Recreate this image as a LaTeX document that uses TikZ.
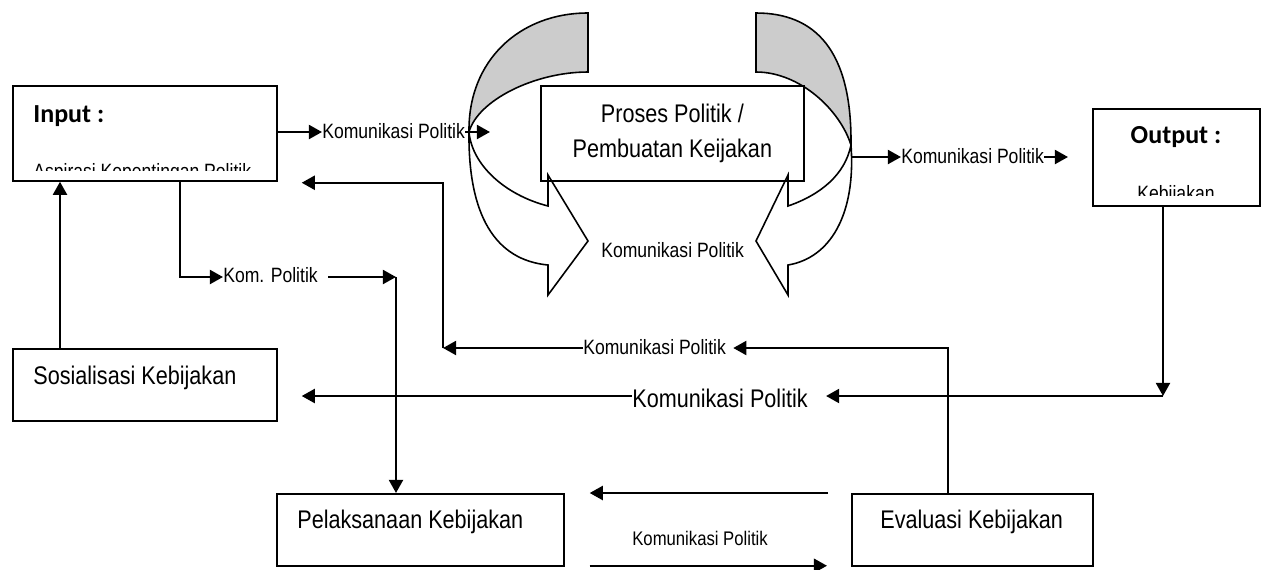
\documentclass[tikz,border=0pt]{standalone}
\usepackage{fontspec}
\setmainfont{Liberation Sans}
\newfontfamily\hdfont{Carlito}
\usetikzlibrary{arrows.meta}
\definecolor{bandgray}{RGB}{204,204,204}
\newcommand\tallt[1]{\scalebox{1}[1.18]{#1}}

\begin{document}
\begin{tikzpicture}[x=0.02cm, y=-0.02cm,
  box/.style = {draw, line width=1pt, anchor=north west, inner sep=0pt},
  txt/.style = {inner sep=0pt, font=\fontsize{10}{12}\selectfont},
  big/.style = {inner sep=0pt, font=\fontsize{12.3}{15}\selectfont},
  head/.style = {inner sep=0pt, font=\hdfont\bfseries\fontsize{14.8}{16}\selectfont},
  con/.style = {line width=1.3pt, -{Triangle[length=7.5pt,width=8pt]}},
  band/.style = {line width=0.9pt}]

\useasboundingbox (0,0) rectangle (1262,569);

% curved arrows round the process box
\filldraw[band, fill=bandgray] (588,13) -- (588,72) .. controls (535,72) and (478,100) .. (469,132) .. controls (468,60) and (520,13) .. (588,13) -- cycle;
\filldraw[band, fill=white] (469,132) .. controls (468,215) and (495,260) .. (548,265) -- (548,295) -- (588,241) -- (548,175) -- (548,206) .. controls (505,195) and (472,165) .. (469,132) -- cycle;
\filldraw[band, fill=bandgray] (756,13) -- (756,72) .. controls (800,72) and (840,110) .. (851,145) .. controls (852,50) and (815,13) .. (756,13) -- cycle;
\filldraw[band, fill=white] (851,145) .. controls (856,215) and (830,258) .. (788,265) -- (788,295) -- (756,241) -- (788,175) -- (788,206) .. controls (820,195) and (845,175) .. (851,145) -- cycle;
\node[txt, anchor=base west] (kmid) at (601,257) {\tallt{Komunikasi Politik}};

% boxes
\node[box, minimum width=5.28cm, minimum height=1.9cm] (inp) at (12,85) {};
\node[box, minimum width=5.26cm, minimum height=1.9cm, align=center, font=\fontsize{12.3}{19.8}\selectfont] (proc) at (540,85) {\tallt{Proses Politik /}\\\tallt{Pembuatan Keijakan}};
\node[box, minimum width=3.34cm, minimum height=1.94cm] (out) at (1092,108) {};
\node[box, minimum width=5.28cm, minimum height=1.44cm] (sos) at (12,348) {};
\node[box, minimum width=5.74cm, minimum height=1.44cm] (pel) at (276,493) {};
\node[box, minimum width=4.82cm, minimum height=1.44cm] (eva) at (851,493) {};

\node[head, anchor=base west] (inph) at (33,122) {Input :};
\begin{scope}
  \clip (12,85) rectangle (276,170);
  \node[txt, anchor=base west] (asp) at (33,178) {\tallt{Aspirasi Kepentingan Politik}};
\end{scope}
\node[head, anchor=base] (outh) at (1176,143) {Output :};
\begin{scope}
  \clip (1092,108) rectangle (1259,195);
  \node[txt, anchor=base] (keb) at (1176,200) {\tallt{Kebijakan}};
\end{scope}
\node[big, anchor=base west] (sost) at (33,384) {\tallt{Sosialisasi Kebijakan}};
\node[big, anchor=base west] (pelt) at (297,528) {\tallt{Pelaksanaan Kebijakan}};
\node[big, anchor=base west] (evat) at (880,528) {\tallt{Evaluasi Kebijakan}};

% labels on the connectors
\node[txt, anchor=base west] (k1) at (322,138) {\tallt{Komunikasi Politik}};
\node[txt, anchor=base west] (k2) at (901,163) {\tallt{Komunikasi Politik}};
\node[txt, anchor=base west] (k3) at (223,282) {\tallt{Kom. Politik}};
\node[big, anchor=base west] (k4) at (632,407) {\tallt{Komunikasi Politik}};
\node[txt, anchor=base west] (k5) at (583,354) {\tallt{Komunikasi Politik}};
\node[txt, anchor=base west, font=\fontsize{9.5}{11}\selectfont] (k6) at (632,545) {\tallt{Komunikasi Politik}};

\coordinate (pl) at (490,132);
\coordinate (pr) at (852,157);
\coordinate (pre) at (1068,157);
\coordinate (oc) at (1163,396);
\coordinate (ib) at (180,180);
\coordinate (kc) at (396,277);
\coordinate (su) at (60,348);
\coordinate (eu) at (948,493);
\coordinate (ec) at (443,348);

% connectors
\draw[con] (inp.east |- pl) -- (k1.west |- pl);
\draw[con] (k1.east |- pl) -- (pl);
\draw[con] (pr) -- (k2.west |- pr);
\draw[con] (k2.east |- pr) -- (pre);
\draw[con] (out.south -| oc) -- (oc);
\draw[con] (oc) -- ([shift={(18,0)}]k4.east |- oc);
\draw[con] (k4.west |- oc) -- ([shift={(24,0)}]sos.east |- oc);
\draw[con] (ib) |- (k3.west |- kc);
\draw[con] ([shift={(10,0)}]k3.east |- kc) -- (kc);
\draw[con] (kc) -- (kc |- pel.north);
\draw[con] (su) -- (su |- inp.south);
\draw[con] (eu) |- ([shift={(7,0)}]k5.east |- ec);
\draw[con] (k5.west |- ec) -- (ec);
\draw[con] (ec) |- ([shift={(24,1)}]inp.south east);
\draw[con] ([shift={(-23,0)}]eva.north west) -- ([shift={(25,0)}]pel.north east);
\draw[con] ([shift={(25,-1)}]pel.south east) -- ([shift={(-24,-1)}]eva.south west);

\end{tikzpicture}
\end{document}
